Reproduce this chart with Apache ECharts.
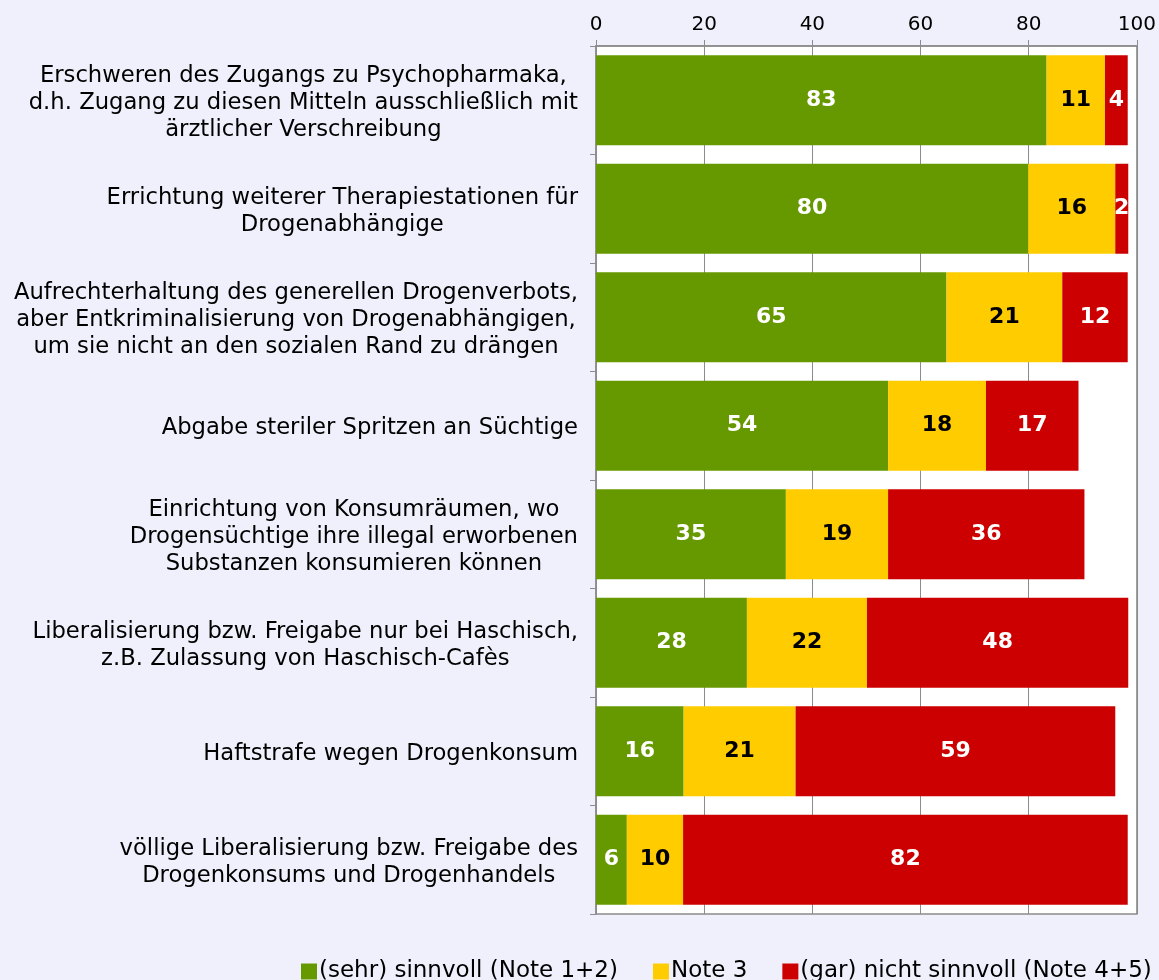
<!DOCTYPE html>
<html>
<head>
<meta charset="utf-8">
<script src="https://cdn.jsdelivr.net/npm/echarts@6/dist/echarts.min.js"></script>
<style>
  html, body { margin: 0; padding: 0; background: #f0f0fc; }
  #chart { width: 1159px; height: 980px; }
</style>
</head>
<body>
<div id="chart"></div>
<script>
// Kategorien (von oben nach unten)
var categories = [
    'Erschweren des Zugangs zu Psychopharmaka,\nd.h. Zugang zu diesen Mitteln ausschließlich mit\närztlicher Verschreibung',
    'Errichtung weiterer Therapiestationen für\nDrogenabhängige',
    'Aufrechterhaltung des generellen Drogenverbots,\naber Entkriminalisierung von Drogenabhängigen,\num sie nicht an den sozialen Rand zu drängen',
    'Abgabe steriler Spritzen an Süchtige',
    'Einrichtung von Konsumräumen, wo\nDrogensüchtige ihre illegal erworbenen\nSubstanzen konsumieren können',
    'Liberalisierung bzw. Freigabe nur bei Haschisch,\nz.B. Zulassung von Haschisch-Cafès',
    'Haftstrafe wegen Drogenkonsum',
    'völlige Liberalisierung bzw. Freigabe des\nDrogenkonsums und Drogenhandels'
]
var legendData = ['(sehr) sinnvoll (Note 1+2)', 'Note 3', '(gar) nicht sinnvoll (Note 4+5)']
var sinnvoll = [83.3, 79.9, 64.8, 54.0, 35.1, 27.9, 16.2, 5.7]
var note3 = [10.8, 16.1, 21.4, 18.1, 18.9, 22.2, 20.7, 10.4]
var nichtSinnvoll = [4.2, 2.4, 12.1, 17.1, 36.3, 48.3, 59.1, 82.2]
var xTicks = [0, 20, 40, 60, 80, 100]

var colors = ['#669900', '#ffcc00', '#cc0000']
var labelColors = ['#ffffff', '#000000', '#ffffff']

function makeSeries(i, data) {
    return {
        name: legendData[i],
        type: 'bar',
        stack: 'total',
        barWidth: 90,
        itemStyle: { color: colors[i] },
        label: {
            show: true,
            position: 'inside',
            color: labelColors[i],
            fontFamily: 'DejaVu Sans',
            fontWeight: 'bold',
            fontSize: 22,
            formatter: function (p) { return Math.round(p.value) }
        },
        data: data
    }
}

var charts = echarts.init(document.getElementById('chart'))
charts.setOption({
    backgroundColor: '#f0f0fc',
    animation: false,
    textStyle: { fontFamily: 'DejaVu Sans' },
    grid: {
        left: 596,
        right: 17,
        top: 46,
        bottom: 66,
        show: true,
        backgroundColor: '#ffffff',
        borderColor: '#8c8c8c',
        borderWidth: 1.5
    },
    legend: {
        data: legendData,
        left: 296,
        top: 955,
        icon: 'rect',
        itemWidth: 16,
        itemHeight: 16,
        itemGap: 35,
        textStyle: { fontSize: 23, color: '#000', padding: [0, 0, 0, -3] }
    },
    xAxis: {
        type: 'value',
        position: 'top',
        min: xTicks[0],
        max: xTicks[xTicks.length - 1],
        interval: 20,
        axisLine: { show: true, lineStyle: { color: '#8c8c8c', width: 1.5 } },
        axisTick: { show: true, length: 6, lineStyle: { color: '#8c8c8c' } },
        splitLine: { show: true, lineStyle: { color: '#8c8c8c', width: 1 } },
        axisLabel: { fontSize: 20, color: '#000', margin: 11 }
    },
    yAxis: {
        type: 'category',
        inverse: true,
        data: categories,
        axisLine: { show: true, lineStyle: { color: '#8c8c8c', width: 1.5 } },
        axisTick: { show: true, length: 6, lineStyle: { color: '#8c8c8c' } },
        axisLabel: {
            margin: 18,
            color: '#000',
            padding: [5, 0, 0, 0],
            formatter: function (v) {
                return v.split('\n').map(function (l) { return '{a|' + l + '}' }).join('\n')
            },
            rich: {
                a: { align: 'center', fontSize: 22.7, lineHeight: 27, color: '#000', fontFamily: 'DejaVu Sans' }
            }
        }
    },
    series: [
        makeSeries(0, sinnvoll),
        makeSeries(1, note3),
        makeSeries(2, nichtSinnvoll)
    ]
})
</script>
</body>
</html>
